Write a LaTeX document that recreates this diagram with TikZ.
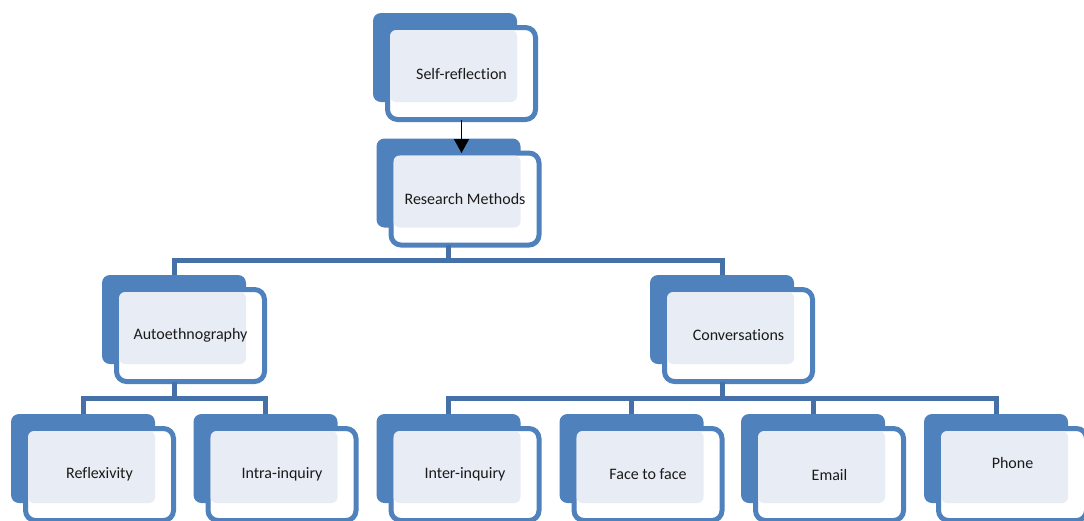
\documentclass[tikz,border=0pt]{standalone}
\usepackage{fontspec}
\setmainfont{Carlito}[Ligatures=NoCommon]
\usetikzlibrary{arrows.meta}
\definecolor{boxblue}{HTML}{4F81BD}
\definecolor{connblue}{HTML}{4670A8}
\definecolor{patfill}{HTML}{E8EDF5}
\definecolor{txt}{HTML}{1A1A1A}
\tikzset{
  backbox/.style={fill=boxblue, rounded corners=8pt, minimum width=144pt, minimum height=89pt, inner sep=0pt, outer sep=0pt},
  frontbox/.style={draw=boxblue, fill=white, line width=5pt, rounded corners=10pt, minimum width=148pt, minimum height=92pt, inner sep=0pt, outer sep=0pt},
  patbox/.style={fill=patfill, rounded corners=6pt},
  lbl/.style={text=txt, font=\fontsize{16}{19}\selectfont, inner sep=0pt},
  conn/.style={draw=connblue, line width=5pt, line join=miter},
  arr/.style={draw=black, line width=1.5pt, -{Triangle[width=15pt,length=14pt]}}
}
\newcommand\blk[5][0]{% [text dy] name, x, y, text
  \node[backbox] (#2b) at (#3-16.5,#4-16) {};
  \node[frontbox] (#2f) at (#3,#4) {};
  \path[patbox] ([shift={(2.5pt,-2.5pt)}]#2f.north west) rectangle (#2b.south east);
  \node[lbl] (#2) at (#3,#4-#1) {#5};
}
\begin{document}
\begin{tikzpicture}[x=1pt,y=-1pt]
\useasboundingbox (0,0) rectangle (1084,520);
\clip (0,0) rectangle (1084,520);
\fill[white] (0,0) rectangle (1084,520);
\coordinate (bar1) at (0,260);
\coordinate (bar2) at (0,398);
% boxes
\blk{SR}{461.5}{73.5}{Self-reflection}
\blk{RM}{465}{199}{Research Methods}
\blk{AE}{190.5}{335.5}{Autoethnography}
\blk{CV}{738.5}{335.5}{Conversations}
\blk{RF}{99.5}{474.5}{Reflexivity}
\blk{IA}{282}{474.5}{Intra-inquiry}
\blk{IE}{465}{474.5}{Inter-inquiry}
\blk{FF}{648}{474.5}{Face to face}
\blk{EM}{829.5}{474.5}{Email}
\blk[12]{PH}{1012.5}{474.5}{Phone}
% connectors
\draw[conn] (RMf.south -| RMb.south) -- (RMb.south |- bar1);
\draw[conn] (AEb.north) -- (AEb.north |- bar1) -- (CVb.north |- bar1) -- (CVb.north);
\draw[conn] (AEf.south -| AEb.south) -- (AEb.south |- bar2);
\draw[conn] (RFb.north) -- (RFb.north |- bar2) -- (IAb.north |- bar2) -- (IAb.north);
\draw[conn] (CVf.south -| CVb.south) -- (CVb.south |- bar2);
\draw[conn] (IEb.north) -- (IEb.north |- bar2) -- (PHb.north |- bar2) -- (PHb.north);
\draw[conn] (FFb.north |- bar2) -- (FFb.north);
\draw[conn] (EMb.north |- bar2) -- (EMb.north);
\draw[arr] (SRf.south) -- (SRf.south |- RMf.north);
\end{tikzpicture}
\end{document}
